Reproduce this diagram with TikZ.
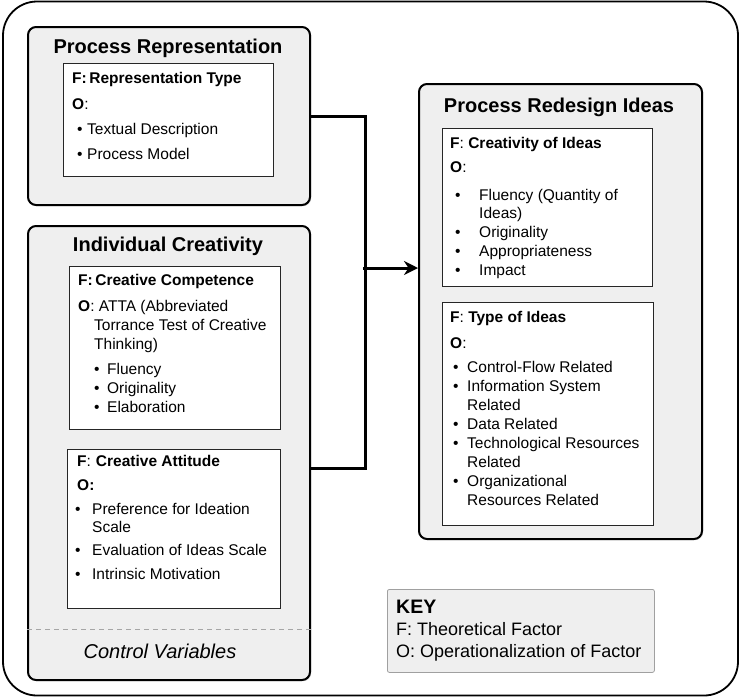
\documentclass[tikz,border=0pt]{standalone}
\usepackage{fontspec}
\setmainfont{Liberation Sans}
\usetikzlibrary{arrows.meta,shadows}

\definecolor{panelgray}{HTML}{EFEFEF}
\definecolor{dashgray}{HTML}{A6A6A6}
\definecolor{keyline}{HTML}{A0A0A0}

% bullet item: lead-in, width of the marker column, text
\newcommand{\itm}[3]{\hspace*{#1}\makebox[#2][l]{\textbullet}#3}

\begin{document}
\begin{tikzpicture}[x=1pt,y=-1pt]
    \tikzstyle{every node}=[inner sep=0pt]
    \tikzstyle{group}=[draw, line width=2pt, rounded corners=8pt, fill=panelgray,
        anchor=north west, drop shadow={shadow xshift=1.2pt, shadow yshift=-1.2pt, opacity=0.3}]
    \tikzstyle{factor}=[draw=black!85, line width=0.9pt, fill=white, anchor=north west]
    \tikzstyle{title}=[anchor=base, font=\fontsize{20}{24}\selectfont\bfseries]
    \tikzstyle{body}=[anchor=north west, align=left, font=\fontsize{15.5}{19}\selectfont]
    \tikzstyle{link}=[line width=3pt]

    \useasboundingbox (0,0) rectangle (741,697);
    \draw[line width=1.8pt, rounded corners=34pt] (3,1.5) rectangle (738,695.5);

    % left column: inputs
    \node[group, minimum width=282pt, minimum height=178pt] (procrep) at (27,26) {};
    \node[title] (procreptitle) at (168,53) {Process Representation};
    \node[factor, minimum width=210pt, minimum height=113pt] (reptype) at (63,63) {};
    \node[body] (reptypetxt) at (72,72.4) {%
        \textbf{F:}\,\textbf{Representation Type}\\[7pt]
        \textbf{O}:\\[6pt]
        \itm{5pt}{10pt}{Textual Description}\\[6pt]
        \itm{5pt}{10pt}{Process Model}};

    \node[group, minimum width=282pt, minimum height=454pt] (indcr) at (27,225) {};
    \node[title] (indcrtitle) at (168,251) {Individual Creativity};
    \node[factor, minimum width=211pt, minimum height=163pt] (competence) at (69,266) {};
    \node[body] (competencetxt) at (78,274.4) {%
        \textbf{F:}\,\textbf{Creative Competence}\\[7pt]
        \textbf{O}: ATTA (Abbreviated\\
        \hspace*{16pt}Torrance Test of Creative\\
        \hspace*{16pt}Thinking)\\[6pt]
        \itm{16pt}{13pt}{Fluency}\\
        \itm{16pt}{13pt}{Originality}\\
        \itm{16pt}{13pt}{Elaboration}};
    \node[factor, minimum width=213pt, minimum height=159pt] (attitude) at (67,449) {};
    \node[body] (attitudetxt) at (75,455.4) {%
        \hspace*{2pt}\textbf{F}:\hspace{5pt}\textbf{Creative Attitude}\\[5pt]
        \hspace*{2pt}\textbf{O:}\\[5pt]
        \itm{0pt}{17pt}{Preference for Ideation}\\[-1pt]
        \hspace*{17pt}Scale\\[4pt]
        \itm{0pt}{17pt}{Evaluation of Ideas Scale}\\[5pt]
        \itm{0pt}{17pt}{Intrinsic Motivation}};
    \coordinate (ctrl) at (168,629);
    \draw[dashgray, line width=1pt, dash pattern=on 5pt off 4pt]
        (ctrl -| indcr.west) -- (ctrl -| indcr.east);
    \node[anchor=base, font=\fontsize{20}{24}\selectfont\itshape] (ctrltxt) at (160,658) {Control Variables};

    % right column: outcome
    \node[group, minimum width=283pt, minimum height=455pt] (redesign) at (418,83) {};
    \node[title] (redesigntitle) at (559,112) {Process Redesign Ideas};
    \node[factor, minimum width=210pt, minimum height=158pt] (ideacre) at (442,128) {};
    \node[body] (ideacretxt) at (450,137.4) {%
        \textbf{F}: \textbf{Creativity of Ideas}\\[5pt]
        \textbf{O}:\\[9pt]
        \itm{5pt}{24pt}{Fluency (Quantity of}\\[-1pt]
        \hspace*{29pt}Ideas)\\
        \itm{5pt}{24pt}{Originality}\\
        \itm{5pt}{24pt}{Appropriateness}\\
        \itm{5pt}{24pt}{Impact}};
    \node[factor, minimum width=211pt, minimum height=223pt] (ideatype) at (442,302) {};
    \node[body] (ideatypetxt) at (450,311.4) {%
        \textbf{F}: \textbf{Type of Ideas}\\[7pt]
        \textbf{O}:\\[5pt]
        \itm{3pt}{14pt}{Control-Flow Related}\\
        \itm{3pt}{14pt}{Information System}\\
        \hspace*{17pt}Related\\
        \itm{3pt}{14pt}{Data Related}\\
        \itm{3pt}{14pt}{Technological Resources}\\
        \hspace*{17pt}Related\\
        \itm{3pt}{14pt}{Organizational}\\
        \hspace*{17pt}Resources Related};

    % legend
    \node[draw=keyline, line width=0.8pt, fill=panelgray, rounded corners=2pt, anchor=north west,
        minimum width=267pt, minimum height=83pt] (key) at (387,589) {};
    \node[anchor=north west, align=left, font=\fontsize{18}{22}\selectfont] (keytxt) at (396,600) {%
        {\fontsize{19.5}{22}\selectfont\bfseries KEY}\\
        F: Theoretical Factor\\
        O: Operationalization of Factor};

    % connectors
    \draw[link] (procrep.east) -- ++(54,0) |- ([yshift=-15pt]indcr.east);
    \coordinate (hub) at (363,268);
    \draw[link, -{Stealth[length=14pt, width=14pt]}] (hub) -- (hub -| redesign.west);
\end{tikzpicture}
\end{document}
